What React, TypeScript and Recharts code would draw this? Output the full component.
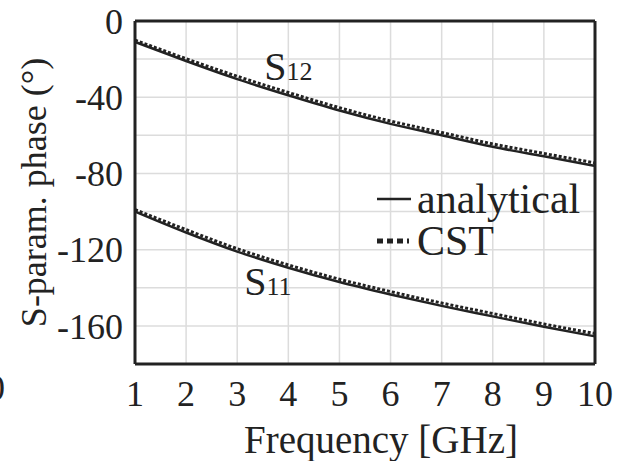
import React from 'react';
import {
  LineChart,
  Line,
  XAxis,
  YAxis,
  CartesianGrid,
  ReferenceLine,
  ReferenceDot,
} from 'recharts';

const frequency = [1, 2, 3, 4, 5, 6, 7, 8, 9, 10];
const s12Analytical = [-11, -21, -30.5, -39, -47, -54, -60, -66, -71, -76];
const s12Cst = [-10, -19.8, -29, -37.5, -45.5, -52.5, -58.5, -64.5, -69.5, -74.5];
const s11Analytical = [-100, -111, -121, -129.5, -137, -143.5, -149.5, -155, -160.5, -165.5];
const s11Cst = [-99, -109.5, -119.5, -128, -135.5, -142, -148, -153.5, -159, -164];

const xTicks = [1, 2, 3, 4, 5, 6, 7, 8, 9, 10];
const yTicks = [0, -20, -40, -60, -80, -100, -120, -140, -160, -180];

const FONT = '"Liberation Serif", "DejaVu Serif", serif';
const INK = '#222';

const data = frequency.map((f, i) => ({
  f,
  s12a: s12Analytical[i],
  s12c: s12Cst[i],
  s11a: s11Analytical[i],
  s11c: s11Cst[i],
}));

// S with a smaller "12"/"11" after it, like the figure
const SLabel = ({ viewBox, sub }: any) => {
  const cx = viewBox.x + viewBox.width / 2;
  const cy = viewBox.y + viewBox.height / 2;
  return (
    <text x={cx} y={cy + 13} textAnchor="middle" fill={INK} fontFamily={FONT}>
      <tspan fontSize={40}>S</tspan>
      <tspan fontSize={26}>{sub}</tspan>
    </text>
  );
};

const LegendBox = () => (
  <div
    style={{
      position: 'absolute',
      left: 373,
      top: 178,
      fontFamily: FONT,
      fontSize: 42,
      color: INK,
      lineHeight: '42px',
    }}
  >
    <div style={{ display: 'flex', alignItems: 'center' }}>
      <svg width={44} height={10}>
        <line x1={4} y1={5} x2={38} y2={5} stroke={INK} strokeWidth={2.5} />
      </svg>
      <span>analytical</span>
    </div>
    <div style={{ display: 'flex', alignItems: 'center' }}>
      <svg width={44} height={10}>
        <line x1={4} y1={5} x2={36} y2={5} stroke={INK} strokeWidth={5} strokeDasharray="6 4" />
      </svg>
      <span>CST</span>
    </div>
  </div>
);

export default function App() {
  return (
    <div style={{ position: 'absolute', left: 0, top: 0, width: 617, height: 461, background: '#fff', overflow: 'hidden' }}>
      <span style={{ position: 'absolute', left: -13, top: 367, fontFamily: FONT, fontSize: 36, color: INK }}>0</span>
      <LineChart width={617} height={461} data={data} margin={{ top: 21, right: 22, bottom: 0, left: 0 }}>
        <CartesianGrid stroke="#dcdcdc" strokeWidth={1.5} />
        <XAxis
          dataKey="f"
          type="number"
          domain={[1, 10]}
          ticks={xTicks}
          height={97}
          tickLine={false}
          axisLine={{ stroke: INK, strokeWidth: 3 }}
          tick={{ fill: INK, fontFamily: FONT, fontSize: 36 }}
          tickMargin={10}
          label={{
            value: 'Frequency [GHz]',
            position: 'insideBottom',
            offset: 8,
            dx: 16,
            style: { fill: INK, fontFamily: FONT, fontSize: 39 },
          }}
        />
        <YAxis
          type="number"
          domain={[-180, 0]}
          ticks={yTicks}
          width={135}
          tickLine={false}
          axisLine={{ stroke: INK, strokeWidth: 3 }}
          tick={{ fill: INK, fontFamily: FONT, fontSize: 36 }}
          tickMargin={6}
          tickFormatter={(v: number) => (v % 40 === 0 ? String(v) : '')}
          label={{
            value: 'S-param. phase (°)',
            angle: -90,
            position: 'center',
            dx: -34,
            style: { fill: INK, fontFamily: FONT, fontSize: 36, textAnchor: 'middle' },
          }}
        />
        <ReferenceLine y={0} stroke={INK} strokeWidth={3} />
        <ReferenceLine x={10} stroke={INK} strokeWidth={3} />
        <Line dataKey="s12c" type="monotone" stroke={INK} strokeWidth={3} strokeDasharray="3 2" dot={false} isAnimationActive={false} />
        <Line dataKey="s12a" type="monotone" stroke={INK} strokeWidth={2.5} dot={false} isAnimationActive={false} />
        <Line dataKey="s11c" type="monotone" stroke={INK} strokeWidth={3} strokeDasharray="3 2" dot={false} isAnimationActive={false} />
        <Line dataKey="s11a" type="monotone" stroke={INK} strokeWidth={2.5} dot={false} isAnimationActive={false} />
        <ReferenceDot x={4} y={-24} r={0} label={<SLabel sub="12" />} />
        <ReferenceDot x={3.6} y={-137} r={0} label={<SLabel sub="11" />} />
      </LineChart>
      <LegendBox />
    </div>
  );
}
